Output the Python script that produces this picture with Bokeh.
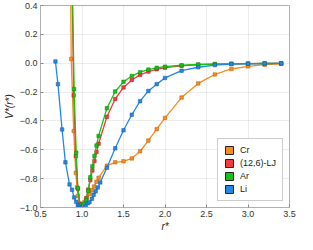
from bokeh.plotting import figure
from bokeh.models import Range1d, FixedTicker, CustomJSTickFormatter, Legend, LegendItem
from bokeh.embed import file_html
from bokeh.resources import INLINE

# ---- data ----
cr_r = [0.85, 0.87, 0.9, 0.925, 0.94, 0.95, 0.975, 1.0, 1.03, 1.06, 1.09, 1.12, 1.145,
        1.175, 1.2, 1.3, 1.4, 1.5, 1.6, 1.7, 1.8, 1.9, 2.0, 2.2, 2.4, 2.6, 2.8, 3.0, 3.2, 3.4]
cr_v = [1.5, 0.03, -0.47, -0.76, -0.86, -0.92, -0.985, -1.0, -0.962, -0.933, -0.906, -0.88,
        -0.855, -0.821, -0.794, -0.71, -0.687, -0.68, -0.66, -0.61, -0.536, -0.457, -0.379,
        -0.238, -0.14, -0.078, -0.04, -0.022, -0.01, -0.004]

lj_r = [0.85, 0.9, 0.925, 0.95, 0.975, 1.0, 1.025, 1.05, 1.075, 1.1, 1.125, 1.15, 1.175,
        1.2, 1.3, 1.4, 1.5, 1.6, 1.7, 1.8, 1.9, 2.0, 2.2, 2.4, 2.6, 2.8, 3.0, 3.2, 3.4]
lj_v = [1.728, -0.223, -0.644, -0.870, -0.973, -1.0, -0.981, -0.936, -0.876, -0.810, -0.743,
        -0.678, -0.616, -0.558, -0.371, -0.248, -0.168, -0.116, -0.081, -0.058, -0.042, -0.031,
        -0.018, -0.010, -0.0065, -0.0041, -0.0027, -0.0019, -0.0013]

ar_r = [0.87, 0.905, 0.93, 0.95, 0.975, 1.0, 1.025, 1.05, 1.075, 1.1, 1.125, 1.15, 1.175,
        1.2, 1.3, 1.4, 1.5, 1.6, 1.7, 1.8, 1.9, 2.0, 2.2, 2.4, 2.6, 2.8, 3.0, 3.2, 3.4]
ar_v = [1.0, -0.18, -0.62, -0.866, -0.982, -1.0, -0.975, -0.95, -0.885, -0.79, -0.715, -0.643,
        -0.57, -0.504, -0.312, -0.196, -0.129, -0.089, -0.062, -0.044, -0.032, -0.024, -0.014,
        -0.009, -0.006, -0.004, -0.003, -0.002, -0.0015]

li_r = [0.68, 0.71, 0.76, 0.80, 0.85, 0.88, 0.905, 0.93, 0.95, 0.965, 0.98, 1.0, 1.02, 1.045,
        1.07, 1.09, 1.12, 1.14, 1.165, 1.19, 1.22, 1.3, 1.4, 1.5, 1.6, 1.7, 1.8, 1.9, 2.0,
        2.2, 2.4, 2.6, 2.8, 3.0, 3.2, 3.4]
li_v = [0.0125, -0.145, -0.459, -0.687, -0.84, -0.877, -0.93, -0.96, -0.985, -0.995, -1.0,
        -1.0, -0.998, -0.99, -0.97, -0.963, -0.94, -0.912, -0.888, -0.861, -0.826, -0.725,
        -0.59, -0.465, -0.357, -0.263, -0.192, -0.145, -0.102, -0.052, -0.028, -0.013,
        -0.006, -0.004, -0.002, -0.001]

x_ticks = [0.5, 1.0, 1.5, 2.0, 2.5, 3.0, 3.5]
y_ticks = [-1.0, -0.8, -0.6, -0.4, -0.2, 0.0, 0.2, 0.4]

series = [
    ("Cr", cr_r, cr_v, "#FA8A1C", "#B85E0A"),
    ("(12,6)-LJ", lj_r, lj_v, "#F03C3C", "#A82424"),
    ("Ar", ar_r, ar_v, "#14C314", "#0B820B"),
    ("Li", li_r, li_v, "#2487E6", "#165A9E"),
]

p = figure(width=297, height=234, output_backend="svg", toolbar_location=None,
           x_range=Range1d(0.5, 3.5), y_range=Range1d(-1.0, 0.4),
           min_border_left=0, min_border_right=8, min_border_top=5, min_border_bottom=0)

p.outline_line_color = "#b0b0b0"
p.outline_line_width = 1
p.background_fill_color = "white"
p.border_fill_color = "white"

fmt_code = "return (tick < -1e-9 ? '\u2212' : '') + Math.abs(tick).toFixed(1);"
for ax in (p.xaxis[0], p.yaxis[0]):
    ax.axis_line_color = "#b0b0b0"
    ax.major_tick_line_color = "#888888"
    ax.major_tick_in = 3
    ax.major_tick_out = 0
    ax.minor_tick_line_color = None
    ax.major_label_text_font_size = "9px"
    ax.major_label_text_color = "#333333"
    ax.major_label_standoff = 3
    ax.axis_label_text_font_size = "10px"
    ax.axis_label_text_font_style = "italic"
    ax.axis_label_text_color = "#222222"
    ax.axis_label_standoff = 2
    ax.formatter = CustomJSTickFormatter(code=fmt_code)

p.xaxis[0].ticker = FixedTicker(ticks=x_ticks)
p.yaxis[0].ticker = FixedTicker(ticks=y_ticks)
p.xaxis[0].axis_label = "r*"
p.yaxis[0].axis_label = "V*(r*)"
p.xaxis[0].axis_label_standoff = 1

p.grid.grid_line_color = "#000000"
p.grid.grid_line_alpha = 0.07
p.xgrid[0].ticker = FixedTicker(ticks=x_ticks)
p.ygrid[0].ticker = FixedTicker(ticks=y_ticks)

items = []
for name, xs, ys, col, dark in series:
    p.line(xs, ys, line_color=col, line_width=1.3)
    p.scatter(xs, ys, marker="square", size=3.5, fill_color=col, line_color=dark,
              line_width=0.5)
    # legend swatch only (placed outside the visible range)
    box = p.quad(left=[-10], right=[-9], top=[-10], bottom=[-11], fill_color=col,
                 line_color="#222222", line_width=1)
    items.append(LegendItem(label=name, renderers=[box]))

legend = Legend(items=items, location="bottom_right")
legend.glyph_width = 10
legend.glyph_height = 10
legend.label_text_font_size = "9px"
legend.label_text_color = "#222222"
legend.label_standoff = 6
legend.label_height = 10
legend.spacing = 3
legend.padding = 6
legend.margin = 6
legend.border_line_color = "#999999"
legend.border_line_width = 1
legend.background_fill_alpha = 1
p.add_layout(legend)

open("out.html", "w").write(file_html(p, INLINE))
